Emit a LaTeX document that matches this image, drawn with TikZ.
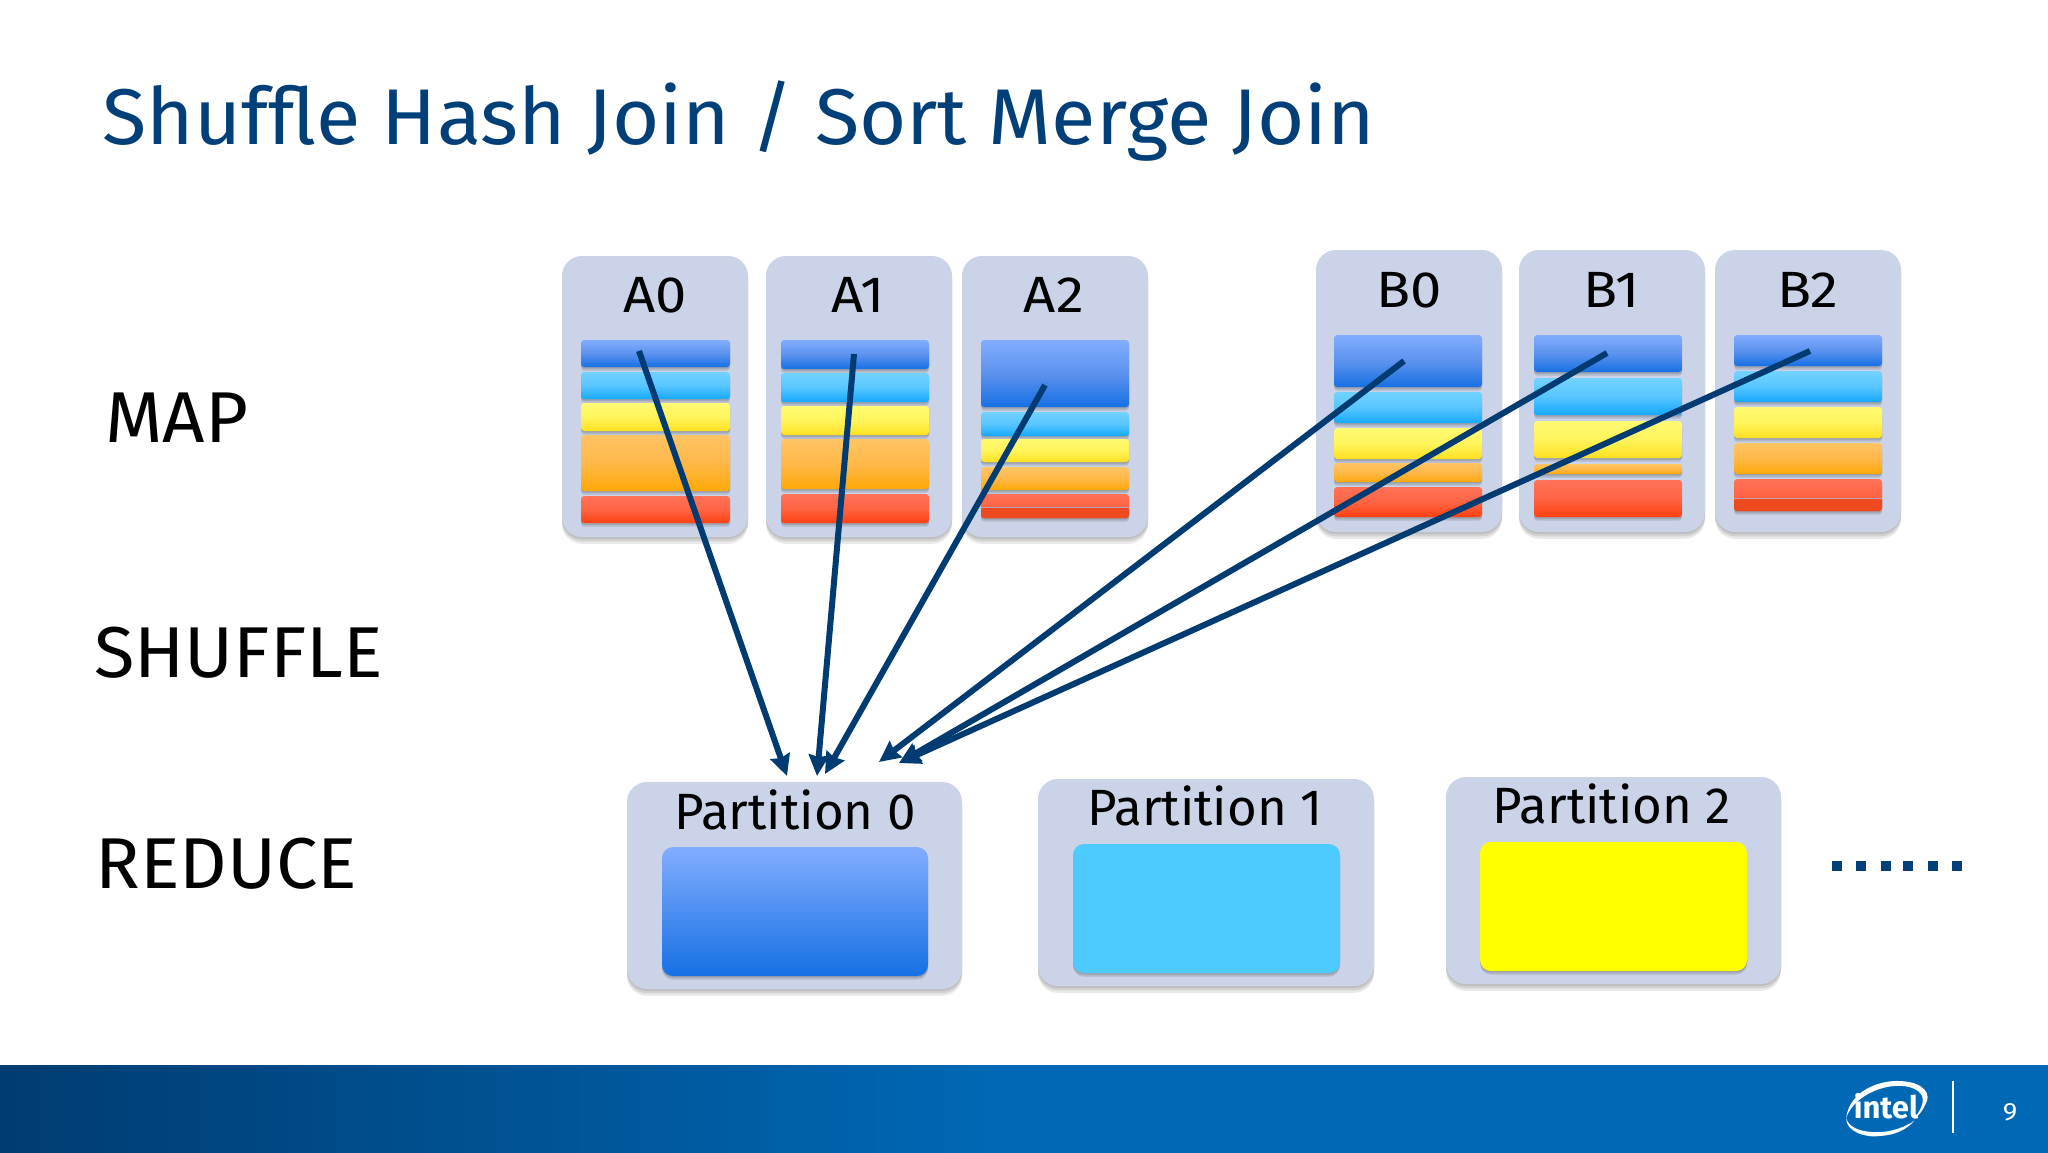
\documentclass[tikz,border=0pt]{standalone}
\usepackage{fontspec}
\setmainfont{Fira Sans}
\newfontfamily\widefont[FakeStretch=1.027]{Fira Sans}
\newfontfamily\shortfont[FakeStretch=1.1]{Fira Sans}
\usetikzlibrary{arrows.meta,shadows,calc}
\definecolor{titleblue}{HTML}{003F78}
\definecolor{arrowblue}{HTML}{003C71}
\definecolor{cardfill}{HTML}{CBD3E8}
\tikzset{
  x=0.5pt,y=-0.5pt,
  softcard/.style={drop shadow={shadow xshift=0pt,shadow yshift=-1pt,opacity=.14,fill=black!70},drop shadow={shadow xshift=0pt,shadow yshift=-2.2pt,opacity=.14,fill=black!70},drop shadow={shadow xshift=0pt,shadow yshift=-3.4pt,opacity=.12,fill=black!70}},
  softband/.style={drop shadow={shadow xshift=0pt,shadow yshift=-.8pt,opacity=.22,fill=black!70},drop shadow={shadow xshift=0pt,shadow yshift=-1.8pt,opacity=.2,fill=black!70}},
  card/.style={softcard,fill=cardfill,rounded corners=10pt},
  band/.style={softband,rounded corners=1.6pt},
  bblue/.style={band,top color=c1a,bottom color=c1b,middle color=c1m},
  bcyan/.style={band,top color=c2a,bottom color=c2b,middle color=c2m},
  byellow/.style={band,top color=c3a,bottom color=c3b,middle color=c3m},
  borange/.style={band,top color=c4a,bottom color=c4b,middle color=c4m},
  bred/.style={band,top color=c5a,bottom color=c5b,middle color=c5m},
  cardlabel/.style={font=\fontsize{25.5pt}{28pt}\selectfont,text=black,inner sep=0pt},
  shortlabel/.style={font=\shortfont\fontsize{25.5pt}{28pt}\selectfont,text=black,inner sep=0pt},
  steplabel/.style={font=\widefont\fontsize{36pt}{40pt}\selectfont,text=black,inner sep=0pt,anchor=west},
  flow/.style={draw=arrowblue,line width=3pt,-{Stealth[length=10.5pt,width=10pt,inset=1pt]}},
  pinner/.style={softband,rounded corners=5.5pt},
  dot/.style={fill=titleblue,minimum size=5.3pt,inner sep=0pt},
}
\definecolor{c1a}{HTML}{82ADFF}\definecolor{c1m}{HTML}{5C92EE}\definecolor{c1b}{HTML}{1670E4}
\definecolor{c2a}{HTML}{72D2FF}\definecolor{c2m}{HTML}{58C6FF}\definecolor{c2b}{HTML}{14A8FF}
\definecolor{c3a}{HTML}{FFFA72}\definecolor{c3m}{HTML}{FFF45C}\definecolor{c3b}{HTML}{FFE020}
\definecolor{c4a}{HTML}{FFC464}\definecolor{c4m}{HTML}{FFB848}\definecolor{c4b}{HTML}{FFA808}
\definecolor{c5a}{HTML}{FF7258}\definecolor{c5m}{HTML}{FF6444}\definecolor{c5b}{HTML}{FF4010}
\definecolor{footA}{HTML}{003C71}\definecolor{footB}{HTML}{0068B5}
\definecolor{pcyan}{HTML}{4DCBFF}\definecolor{pyellow}{HTML}{FFFF00}
\definecolor{hairline}{HTML}{C0A0B8}\definecolor{reddeep}{HTML}{EE4A20}
\newcommand{\bandbox}[5]{\path[#1] (#2,#3) rectangle (#4,#5);}
\begin{document}
\begin{tikzpicture}
\useasboundingbox (0,0) rectangle (2048,1152);
\fill[white] (0,0) rectangle (2048,1152);
% footer
\fill[footB] (0,1065) rectangle (2048,1154);
\shade[left color=footA,right color=footB] (0,1065) rectangle (1000,1154);
% title
\node[anchor=base west,inner sep=0pt,text=titleblue,font=\widefont\fontsize{39.5pt}{44pt}\selectfont] (title) at (102,144) {Shuffle Hash Join / Sort Merge Join};
% phase labels
\node[steplabel] (map) at (105,418) {MAP};
\node[steplabel] (shuffle) at (94,653) {SHUFFLE};
\node[steplabel] (reduce) at (95,864) {REDUCE};
% A cards
\path[card] (562,256) rectangle (748,537);
\path[card] (766,256) rectangle (952,537);
\path[card] (962,256) rectangle (1148,537);
% B cards
\path[card] (1316,250) rectangle (1502,532);
\path[card] (1519,250) rectangle (1705,532);
\path[card] (1715,250) rectangle (1901,532);
\node[shortlabel] (A0) at (655,295) {A0};
\node[shortlabel] (A1) at (858,295) {A1};
\node[shortlabel] (A2) at (1054,295) {A2};
\node[shortlabel] (B0) at (1409,290) {B0};
\node[shortlabel] (B1) at (1612,290) {B1};
\node[shortlabel] (B2) at (1808,290) {B2};
% A0 bands
\bandbox{bblue}{581}{340}{730}{367}
\bandbox{bcyan}{581}{372}{730}{399}
\bandbox{byellow}{581}{403}{730}{431}
\bandbox{borange}{581}{435}{730}{491}
\bandbox{bred}{581}{496}{730}{523}
% A1 bands
\bandbox{bblue}{781}{340}{929}{369}
\bandbox{bcyan}{781}{373}{929}{402}
\bandbox{byellow}{781}{406}{929}{435}
\bandbox{borange}{781}{439}{929}{489}
\bandbox{bred}{781}{494}{929}{523}
% A2 bands
\bandbox{bblue}{981}{340}{1129}{407}
\bandbox{bcyan}{981}{412}{1129}{436}
\bandbox{byellow}{981}{439}{1129}{462}
\bandbox{borange}{981}{467}{1129}{490}
\bandbox{bred}{981}{494}{1129}{518}
\fill[rounded corners=1.6pt,fill=reddeep] (981,507) rectangle (1129,518);
\draw[line width=.5pt,draw=hairline] (981,507) -- (1129,507);
% B0 bands
\bandbox{bblue}{1334}{335}{1482}{387}
\bandbox{bcyan}{1334}{392}{1482}{423}
\bandbox{byellow}{1334}{428}{1482}{459}
\bandbox{borange}{1334}{463}{1482}{482}
\bandbox{bred}{1334}{487}{1482}{517}
% B1 bands
\bandbox{bblue}{1534}{335}{1682}{372}
\bandbox{bcyan}{1534}{378}{1682}{415}
\bandbox{byellow}{1534}{421}{1682}{458}
\bandbox{borange}{1534}{464}{1682}{474}
\bandbox{bred}{1534}{480}{1682}{517}
% B2 bands
\bandbox{bblue}{1734}{335}{1882}{366}
\bandbox{bcyan}{1734}{371}{1882}{402}
\bandbox{byellow}{1734}{407}{1882}{438}
\bandbox{borange}{1734}{443}{1882}{474}
\bandbox{bred}{1734}{479}{1882}{511}
\fill[rounded corners=1.6pt,fill=reddeep] (1734,498) rectangle (1882,511);
\draw[line width=.5pt,draw=hairline] (1734,498) -- (1882,498);
% Partitions
\path[card] (627,782) rectangle (962,989);
\path[card] (1038,779) rectangle (1374,986);
\path[card] (1446,777) rectangle (1781,984);
\path[pinner,top color=c1a,middle color=c1m,bottom color=c1b] (662,847) rectangle (928,976);
\path[pinner,fill=pcyan] (1073,844) rectangle (1340,973);
\path[pinner,fill=pyellow] (1480,842) rectangle (1747,971);
\node[cardlabel] (p0) at (795,809.5) {Partition 0};
\node[cardlabel] (p1) at (1205,806) {Partition 1};
\node[cardlabel] (p2) at (1612,804) {Partition 2};
% dots
\foreach \i/\x in {0/1837,1/1861,2/1886,3/1908,4/1933,5/1957}{\node[dot] (d\i) at (\x,866) {};}
% connector ends
\coordinate (sa0) at (639,351);
\coordinate (sa1) at (854,354);
\coordinate (sa2) at (1045,385);
\coordinate (sb0) at (1404,361);
\coordinate (sb1) at (1607,353);
\coordinate (sb2) at (1810,351);
\coordinate (ea0) at (787,776);
\coordinate (ea1) at (817,776);
\coordinate (ea2) at (825,774);
\coordinate (eb0) at (879,762);
\coordinate (eb1) at (899,763);
\coordinate (eb2) at (899,763);
\draw[flow] (sa0) -- (ea0);
\draw[flow] (sa1) -- (ea1);
\draw[flow] (sa2) -- (ea2);
\draw[flow] (sb0) -- (eb0);
\draw[flow] (sb1) -- (eb1);
\draw[flow] (sb2) -- (eb2);
% logo
\node[text=white,inner sep=0pt,font=\bfseries\fontsize{15.5pt}{18pt}\selectfont] (intel) at (1886,1106) {intel};
\fill[white] (1846,1118) .. controls (1850,1090) and (1880,1080) .. (1900,1081) .. controls (1925,1082) and (1932,1095) .. (1925,1105) .. controls (1922,1112) and (1918,1116) .. (1914,1119) .. controls (1922,1108) and (1927,1098) .. (1918,1091) .. controls (1900,1078) and (1856,1090) .. (1846,1118) -- cycle;
\fill[white] (1846,1118) .. controls (1846,1132) and (1866,1138) .. (1880,1136) .. controls (1895,1135) and (1906,1130) .. (1914,1121) .. controls (1900,1130) and (1885,1133) .. (1872,1132) .. controls (1858,1131) and (1849,1127) .. (1846,1118) -- cycle;
\draw[white,line width=.7pt] (1953,1081) -- (1953,1133);
\node[text=white,inner sep=0pt,font=\shortfont\fontsize{12.5pt}{14pt}\selectfont] (pageno) at (2010,1112) {9};
\end{tikzpicture}
\end{document}
